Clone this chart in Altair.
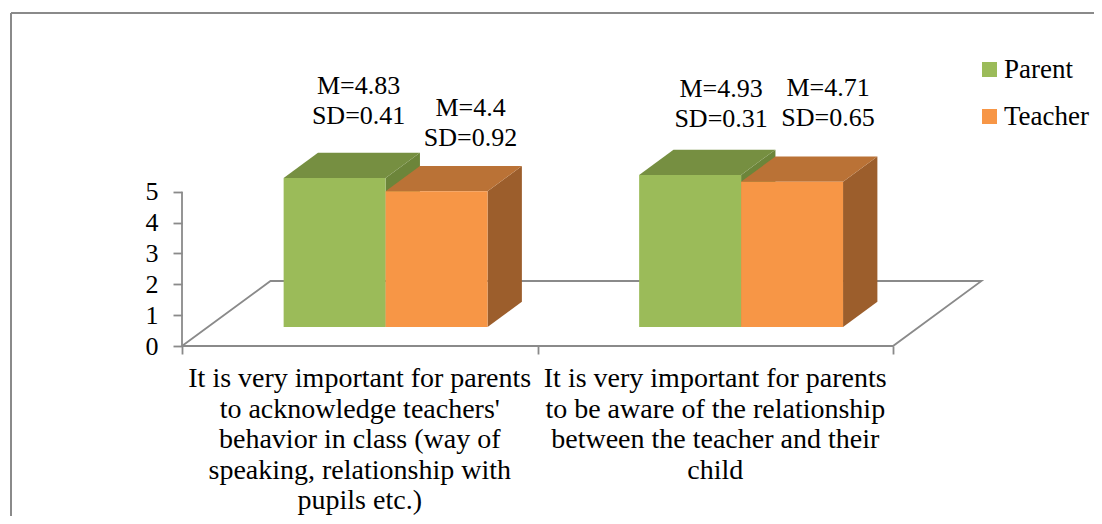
import altair as alt
import pandas as pd

# values
categories = [
    "It is very important for parents\nto acknowledge teachers'\nbehavior in class (way of\nspeaking, relationship with\npupils etc.)",
    "It is very important for parents\nto be aware of the relationship\nbetween the teacher and their\nchild",
]
series = ["Parent", "Teacher"]
means = {"Parent": [4.83, 4.93], "Teacher": [4.4, 4.71]}
sds = {"Parent": [0.41, 0.31], "Teacher": [0.92, 0.65]}
mean_text = {"Parent": ["4.83", "4.93"], "Teacher": ["4.4", "4.71"]}
front_colors = ["#9BBB59", "#F79646"]
top_colors = {"Parent": "#768F41", "Teacher": "#BA7236"}
side_colors = {"Parent": "#6C853A", "Teacher": "#9C5E2C"}
label_shift = {"Parent": [(24, -67), (31, -61)], "Teacher": [(34, -58), (36, -68)]}

GREY = "#8A8A8A"
FONT = "Liberation Serif"

# page geometry -> scale domains
W, H = 1086, 508
PX_CAT = 355.5
PX_VAL = 30.85
X0, Y0 = 182 - 8, 346 - 8
xscale = alt.Scale(domain=[-X0 / PX_CAT, (W - X0) / PX_CAT], nice=False, zero=False)
yscale = alt.Scale(domain=[(Y0 - H) / PX_VAL, Y0 / PX_VAL], nice=False, zero=False)

DX = 88.5 / PX_CAT   # floor depth in category units
DY = 65 / PX_VAL     # floor depth in value units
D0, D1 = 0.292, 0.68
BAR = 0.2868


def X(f, **k):
    return alt.X(f, type="quantitative", scale=xscale, axis=None, **k)


def Y(f, **k):
    return alt.Y(f, type="quantitative", scale=yscale, axis=None, **k)


# axes
axis_layer = alt.Chart(pd.DataFrame({"x": [0.0], "y": [0.0], "y2": [5.0]})).mark_rule(
    color=GREY, strokeWidth=1.8
).encode(
    x=alt.X("x:Q", scale=xscale, title=None, axis=alt.Axis(
        values=[0, 1, 2], labels=False, domain=False, grid=False, orient="bottom",
        tickColor=GREY, tickWidth=1.8, tickSize=8, offset=-(H + 8 - 346), title=None)),
    y=alt.Y("y:Q", scale=yscale, title=None, axis=alt.Axis(
        values=[0, 1, 2, 3, 4, 5], format="d", domain=False, grid=False, orient="left",
        tickColor=GREY, tickWidth=1.8, tickSize=9, offset=-X0, labelPadding=15,
        labelFont=FONT, labelFontSize=26, labelColor="black", title=None)),
    y2="y2:Q",
)

# floor
floor = pd.DataFrame({
    "x": [0, DX, 2 + DX, 2, 0],
    "y": [0, DY, DY, 0, 0],
    "o": [0, 1, 2, 3, 4],
})
floor_layer = alt.Chart(floor).mark_line(color=GREY, strokeWidth=1.8).encode(
    x=X("x"), y=Y("y"), order="o:Q"
)

# frame
frame = [
    alt.Chart().mark_rule(color=GREY, strokeWidth=2).encode(
        x=alt.value(3), x2=alt.value(W), y=alt.value(5)),
    alt.Chart().mark_rule(color=GREY, strokeWidth=2).encode(
        x=alt.value(3), y=alt.value(5), y2=alt.value(H)),
]

bars = []
for ci in range(len(categories)):
    for si, s in enumerate(series):
        v = means[s][ci]
        x0 = ci + 0.5 + D0 * DX + (si - 1) * BAR
        x1 = x0 + BAR
        base = D0 * DY
        top = v + base
        ddx = (D1 - D0) * DX
        ddy = (D1 - D0) * DY

        side = pd.DataFrame({"x": [x1, x1 + ddx], "y": [base, base + ddy], "y2": [top, top + ddy]})
        bars.append(alt.Chart(side).mark_area(color=side_colors[s]).encode(
            x=X("x"), y=Y("y"), y2="y2"))

        top_df = pd.DataFrame({"y": [top, top + ddy], "x": [x0, x0 + ddx], "x2": [x1, x1 + ddx]})
        bars.append(alt.Chart(top_df).mark_area(color=top_colors[s], orient="horizontal").encode(
            y=Y("y"), x=X("x"), x2="x2"))

        front = pd.DataFrame({"x": [x0], "x2": [x1], "y": [base], "y2": [top], "series": [s]})
        bars.append(alt.Chart(front).mark_bar().encode(
            x=X("x"), x2="x2", y=Y("y"), y2="y2",
            color=alt.Color("series:N", scale=alt.Scale(domain=series, range=front_colors),
                            legend=alt.Legend(
                                orient="none", legendX=982 - 8 - 6, legendY=56 - 8, title=None,
                                symbolType="square", symbolSize=225, symbolStrokeWidth=0,
                                symbolOpacity=1, labelFont=FONT, labelFontSize=27,
                                labelColor="black", labelOffset=1, rowPadding=19,
                                labelLimit=200)),
        ))

labels = []
for ci in range(len(categories)):
    for si, s in enumerate(series):
        v = means[s][ci]
        ytop = v + D1 * DY
        sx, sy = label_shift[s][ci]
        df = pd.DataFrame({
            "x": [ci + 0.5 + D0 * DX + (si - 0.5) * BAR],
            "y": [ytop],
            "t": [f"M={mean_text[s][ci]}\nSD={sds[s][ci]}"],
        })
        labels.append(alt.Chart(df).mark_text(
            font=FONT, fontSize=26, color="black", align="center", baseline="middle",
            lineBreak="\n", lineHeight=30, dx=sx, dy=sy,
        ).encode(x=X("x"), y=Y("y"), text="t:N"))

cat_df = pd.DataFrame({"x": [0.5, 1.5], "y": [-0.63, -0.63], "t": categories})
cat_layer = alt.Chart(cat_df).mark_text(
    font=FONT, fontSize=28, color="black", align="center", baseline="top",
    lineBreak="\n", lineHeight=30.4,
).encode(x=X("x"), y=Y("y"), text="t:N")

chart = alt.layer(
    axis_layer, floor_layer, *frame, *bars, *labels, cat_layer
).properties(
    width=W, height=H, padding=0, autosize=alt.AutoSizeParams(type="none"),
    background="white",
).resolve_scale(color="shared").resolve_axis(x="independent", y="independent").configure_view(stroke=None)

chart.save("out.html", embed_options={"renderer": "svg", "actions": False})
